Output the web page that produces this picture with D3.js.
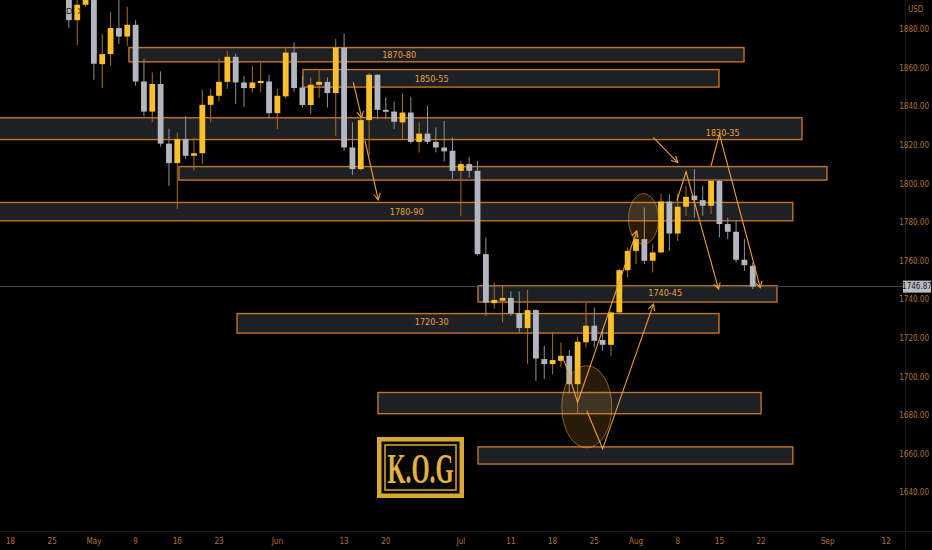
<!DOCTYPE html>
<html><head><meta charset="utf-8">
<script src="https://cdn.jsdelivr.net/npm/d3@7"></script>
<style>html,body{margin:0;padding:0;background:#000;overflow:hidden}</style>
</head><body><svg id="c" width="932" height="550"></svg>
<script>
// ---------- DATA ----------
const axisStart = "2022-04-18";
const axisEnd = "2022-09-17";
const firstCandle = "2022-04-27";
const opens = [1904,1885,1893,1897,1862.2,1867.4,1880.9,1876.5,1882.6,1853.2,1837.6,1851.9,1821,1810.9,1823.3,1814.7,1816,1841.1,1845.8,1853,1866,1852.7,1849.8,1852.4,1853.2,1836.8,1845.5,1868.2,1850.1,1841,1851.5,1853,1847.2,1870.8,1819,1807.8,1833.2,1856.7,1838.5,1837.6,1832,1837.1,1821.9,1826.2,1821.9,1819,1817.3,1806.9,1810.4,1806.9,1763.7,1738.3,1739.6,1741,1733.1,1725.4,1734.7,1709.3,1706.7,1708.4,1711,1696.3,1718,1726.6,1719.2,1716.7,1733.5,1755.4,1765.4,1771.5,1760.3,1764.6,1791,1774.4,1788.3,1794,1791.7,1788.8,1801.7,1779.3,1775.3,1760.8,1757.7];
const highs = [1908,1896,1918,1899,1877.8,1889.3,1905,1891.9,1885,1865,1857.9,1858.4,1828.7,1826.8,1835.4,1824,1848.9,1849.4,1865,1869,1867.6,1856,1861.3,1863,1856.7,1849.4,1870.8,1873.4,1856,1855.3,1859.6,1855.3,1875.2,1878,1832,1835,1857.5,1857,1845,1842.8,1847,1845.3,1832,1840.6,1829.4,1832.8,1824.2,1812,1813.8,1812,1772.3,1749,1747.3,1744.4,1744.4,1745.2,1735.2,1716.2,1723.1,1717.9,1714,1721,1738.6,1736,1724.9,1734,1756,1767.2,1775,1787.9,1768.9,1794.8,1794.8,1795,1799,1807.8,1799.1,1802,1802,1782.7,1781,1771.5,1759.4];
const lows = [1881,1872,1892,1854.1,1849.9,1861.3,1872.7,1871.7,1851,1835.1,1832.1,1819.5,1799.1,1787.2,1813.1,1807,1810.5,1832,1843,1849.4,1841.6,1840,1847.5,1847.5,1834,1828.5,1844.2,1848,1839.7,1836.3,1844.6,1839.7,1825,1817.3,1804.8,1807,1814.7,1833.7,1833.7,1828.5,1823.3,1821,1816.4,1820.8,1816.4,1811.7,1802.6,1783.6,1803.4,1763,1731.7,1735.4,1728.3,1731.7,1723,1706.7,1698,1699,1701.5,1705,1691.5,1681,1715.3,1715.3,1713.6,1711,1733,1751.6,1758.6,1758.6,1754.2,1764,1765.4,1770.6,1783.6,1782.7,1783.6,1784.5,1772.3,1771.5,1759.4,1755,1745.6];
const closes = [1885,1893,1897,1862.4,1867.4,1880.9,1876.5,1882.6,1853.2,1837.6,1851.9,1821,1810.9,1823.3,1814.7,1816,1841.1,1845.8,1853,1866,1852.7,1849.8,1852.7,1853.5,1836.8,1845.8,1868.2,1849.8,1841,1851.5,1853,1847.2,1870.8,1819,1807.8,1833.2,1856.7,1838.5,1837.5,1832.3,1837.1,1821.9,1826.2,1821.9,1819,1817,1806.9,1810.4,1806.9,1763.7,1738.6,1740,1741,1733.1,1725.4,1734.7,1709.6,1706.7,1708.8,1711,1696.3,1718.3,1726.6,1718.8,1716.7,1733.5,1755.4,1765.4,1771.5,1760.3,1764.6,1791,1774.4,1788.3,1793.4,1791.7,1788.8,1801.7,1779.3,1775.3,1760.8,1758,1746.87];
const xTickDates = ["2022-04-18","2022-04-25","2022-05-02","2022-05-09","2022-05-16","2022-05-23","2022-06-01","2022-06-13","2022-06-20","2022-07-01","2022-07-11","2022-07-18","2022-07-25","2022-08-01","2022-08-08","2022-08-15","2022-08-22","2022-09-01","2022-09-12"];
const xTickLabels = ["18","25","May","9","16","23","Jun","13","20","Jul","11","18","25","Aug","8","15","22","Sep","12"];
const yTicks = [1640,1660,1680,1700,1720,1740,1760,1780,1800,1820,1840,1860,1880];
const currency = "USD";
const lastPrice = 1746.87;
// zones: price top/bottom, start/end as trading-day offsets from axisStart
const zoneTop    = [1870.8,1859.4,1834.4,1809.1,1790.5,1747.3,1732.9,1692.0,1663.8];
const zoneBottom = [1863.4,1850.3,1823.1,1802.1,1781.0,1738.9,1722.8,1681.0,1654.9];
const zoneFrom   = [14.2,35.07,-1.4,20.2,-1.4,56.06,27.16,44.06,56.06];
const zoneTo     = [87.95,84.95,94.9,97.9,93.8,91.9,84.95,90.0,93.8];
const zoneLabels = ["1870-80","1850-55","1830-35","1780-90","1740-45","1720-30"];
const zoneLabelDay = [46.6,50.5,85.4,47.5,78.5,50.5];
const zoneLabelPrice = [1867.0,1854.6,1826.6,1785.7,1743.7,1728.6];
// annotation paths (trading-day offset, price); last point has arrowhead
const paths = [
  [[41.1,1852.7],[42.1,1834.5]],
  [[42.5,1822.5],[44.1,1791.9]],
  [[77.07,1824.2],[80.0,1811.2]],
  [[84.0,1809.5],[85.0,1825.9],[89.9,1746.3]],
  [[79.9,1791.4],[81.0,1806.4],[84.9,1745.6]],
  [[66.4,1708.4],[68.0,1686.8],[75.1,1775.8]],
  [[69.1,1682.5],[71.0,1662.8],[77.1,1737.8]]
];
const ellipseDay = [75.9,69.1], ellipsePrice = [1782.0,1684.6], ellipseRDay = [1.8,3.0], ellipseRPrice = [13.1,21.3];

// ---------- SETUP ----------
const svg = d3.select("#c");
const W = 932, H = 550, plotR = 905, plotB = 531;
const parse = d3.timeParse("%Y-%m-%d"), fmt = d3.timeFormat("%Y-%m-%d");
const dayKeys = d3.timeDay.range(parse(axisStart), parse(axisEnd)).filter(d => d.getDay() % 6 !== 0).map(fmt);
const idx = k => dayKeys.indexOf(k);
const x = d3.scaleLinear().domain([0, 105]).range([10.5, 886.2]);
const y = d3.scaleLinear().domain([1640, 1880]).range([492.8, 29.8]);
const c0 = idx(firstCandle);
const candles = opens.map((o, i) => ({i: c0 + i, o, h: highs[i], l: lows[i], c: closes[i]}));

svg.append("rect").attr("width", W).attr("height", H).attr("fill", "#000");
svg.append("defs").append("clipPath").attr("id", "clip").append("rect").attr("width", plotR).attr("height", plotB);
const g = svg.append("g").attr("clip-path", "url(#clip)");

const ORANGE = "#c27427", LINE = "#f0a033", YEL = "#fbbf2c", GRY = "#b3b6bd";
const narrow = "'Liberation Sans Narrow','DejaVu Sans Condensed',sans-serif";

// zones
g.selectAll("rect.zone").data(zoneTop).join("rect").attr("class", "zone")
  .attr("x", (d, i) => x(zoneFrom[i])).attr("width", (d, i) => x(zoneTo[i]) - x(zoneFrom[i]))
  .attr("y", d => y(d)).attr("height", (d, i) => y(zoneBottom[i]) - y(d))
  .attr("fill", "#1e2023").attr("stroke", ORANGE).attr("stroke-width", 1.4);

// last price line
g.append("line").attr("x1", 0).attr("x2", plotR).attr("y1", y(lastPrice)).attr("y2", y(lastPrice))
  .attr("stroke", "#4a4c52").attr("stroke-width", 1);

// candles
const cg = g.append("g");
cg.selectAll("line.wick").data(candles).join("line")
  .attr("x1", d => x(d.i)).attr("x2", d => x(d.i)).attr("y1", d => y(d.h)).attr("y2", d => y(d.l))
  .attr("stroke", d => d.c >= d.o ? "#a8701f" : "#8e9198").attr("stroke-width", 1);
cg.selectAll("rect.body").data(candles).join("rect")
  .attr("x", d => x(d.i) - 2.9).attr("width", 5.8)
  .attr("y", d => y(Math.max(d.o, d.c))).attr("height", d => Math.max(1.5, Math.abs(y(d.o) - y(d.c))))
  .attr("fill", d => d.c >= d.o ? YEL : GRY);

// ellipses
g.selectAll("ellipse").data(ellipseDay).join("ellipse")
  .attr("cx", d => x(d)).attr("cy", (d, i) => y(ellipsePrice[i]))
  .attr("rx", (d, i) => x(ellipseRDay[i]) - x(0)).attr("ry", (d, i) => y(1640) - y(1640 + ellipseRPrice[i]))
  .attr("fill", "rgba(240,160,50,0.17)").attr("stroke", "rgba(240,160,50,0.55)").attr("stroke-width", 1);

// annotation lines with arrowheads
const line = d3.line().x(p => x(p[0])).y(p => y(p[1]));
paths.forEach(pts => {
  g.append("path").attr("d", line(pts)).attr("fill", "none").attr("stroke", LINE).attr("stroke-width", 1.1);
  const a = pts[pts.length - 2], b = pts[pts.length - 1];
  const ax = x(a[0]), ay = y(a[1]), bx = x(b[0]), by = y(b[1]);
  const ang = Math.atan2(by - ay, bx - ax), L = 7, s = 0.5;
  const hp = [[bx - L * Math.cos(ang - s), by - L * Math.sin(ang - s)], [bx, by], [bx - L * Math.cos(ang + s), by - L * Math.sin(ang + s)]];
  g.append("path").attr("d", d3.line()(hp)).attr("fill", "none").attr("stroke", LINE).attr("stroke-width", 1.1);
});

// zone labels
g.selectAll("text.zl").data(zoneLabels).join("text")
  .attr("x", (d, i) => x(zoneLabelDay[i])).attr("y", (d, i) => y(zoneLabelPrice[i]))
  .attr("text-anchor", "middle").attr("dominant-baseline", "central")
  .attr("font-family", narrow).attr("font-size", 9).attr("fill", "#eba23a").text(d => d);

// header fragment
svg.append("text").attr("x", 66).attr("y", 14).attr("font-family", "sans-serif").attr("font-size", 9)
  .attr("fill", "#141414").text("D, X");

// axes separators
svg.append("line").attr("x1", plotR + 0.5).attr("x2", plotR + 0.5).attr("y1", 0).attr("y2", H).attr("stroke", "#1b1c1f");
svg.append("line").attr("x1", 0).attr("x2", W).attr("y1", plotB + 0.5).attr("y2", plotB + 0.5).attr("stroke", "#1b1c1f");

// y axis labels
svg.append("text").attr("x", 908).attr("y", 12).attr("font-family", narrow).attr("font-size", 8).attr("fill", "#b27230").text(currency);
svg.selectAll("text.yt").data(yTicks).join("text")
  .attr("x", 929).attr("y", d => y(d)).attr("text-anchor", "end").attr("dominant-baseline", "central")
  .attr("font-family", narrow).attr("font-size", 8).attr("fill", "#b27230").text(d => d.toFixed(2));
// last price tag
svg.append("rect").attr("x", 903).attr("y", y(lastPrice) - 6).attr("width", 28).attr("height", 12).attr("fill", "#b9bcc3");
svg.append("text").attr("x", 917).attr("y", y(lastPrice)).attr("text-anchor", "middle").attr("dominant-baseline", "central")
  .attr("font-family", narrow).attr("font-size", 8).attr("fill", "#1a1a1a").text(lastPrice.toFixed(2));

// x axis labels
svg.selectAll("text.xt").data(xTickDates).join("text")
  .attr("x", d => x(idx(d))).attr("y", 541).attr("text-anchor", "middle").attr("dominant-baseline", "central")
  .attr("font-family", narrow).attr("font-size", 8).attr("fill", "#b27230").text((d, i) => xTickLabels[i]);

// K.O.G logo watermark
const lg = svg.append("g");
lg.append("rect").attr("x", 377).attr("y", 437).attr("width", 87).attr("height", 61).attr("fill", "#d9a935");
lg.append("rect").attr("x", 381.5).attr("y", 441.5).attr("width", 78).attr("height", 52).attr("fill", "#070604");
lg.append("rect").attr("x", 385).attr("y", 445).attr("width", 71).attr("height", 45).attr("fill", "none").attr("stroke", "#d9a935").attr("stroke-width", 1.5);
lg.append("text").attr("x", 420.5).attr("y", 482.5).attr("text-anchor", "middle")
  .attr("font-family", "'Liberation Serif','DejaVu Serif',serif").attr("font-size", 42).attr("font-weight", "bold")
  .attr("textLength", 66).attr("lengthAdjust", "spacingAndGlyphs").attr("fill", "#e0b23f").text("K.O.G");
</script></body></html>
